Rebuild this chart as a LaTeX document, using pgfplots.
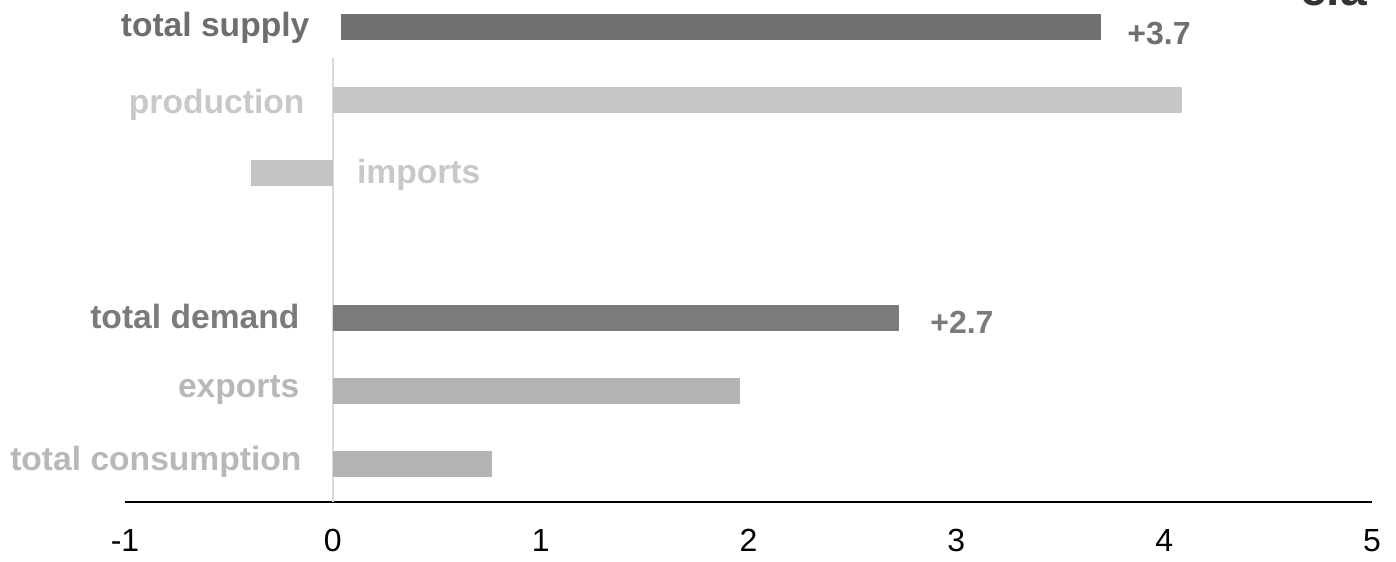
\documentclass[border=0pt]{standalone}
\usepackage{fontspec}
\setmainfont{Liberation Sans}
\usepackage{pgfplots}
\pgfplotsset{compat=1.18}
\definecolor{cSupply}{HTML}{707070}
\definecolor{cSupplyT}{HTML}{6E6E6E}
\definecolor{cDemand}{HTML}{7B7B7B}
\definecolor{cProd}{HTML}{C6C6C6}
\definecolor{cProdT}{HTML}{C8C8C8}
\definecolor{cImp}{HTML}{C4C4C4}
\definecolor{cExp}{HTML}{B3B3B3}
\definecolor{cExpT}{HTML}{B8B8B8}
\definecolor{cZero}{HTML}{D9D9D9}
\begin{document}
\begin{tikzpicture}
\begin{axis}[
  name=ax,
  scale only axis,
  width=623.5pt, height=251pt,
  xmin=-1, xmax=5, ymin=-0.52, ymax=6.37,
  axis x line=bottom, axis y line=none,
  x axis line style={-, line width=1pt, black},
  xtick={-1,0,1,2,3,4,5},
  xticklabels={-1,0,1,2,3,4,5},
  major tick length=0pt,
  xticklabel style={font=\fontsize{16}{16}\selectfont, black, yshift=-10pt},
  clip=false,
]
% zero line
\addplot[sharp plot, no marks, cZero, line width=1pt] coordinates {(0,-0.52) (0,5.575)};
% total supply (floating bar)
\addplot[sharp plot, no marks, fill=cSupply, draw=none] coordinates {(0.0385,5.822) (3.695,5.822) (3.695,6.178) (0.0385,6.178)} -- cycle;
% other bars
\addplot[xbar, bar width=0.356, bar shift=0pt, fill=cProd, draw=none] coordinates {(4.086,5)};
\addplot[xbar, bar width=0.356, bar shift=0pt, fill=cImp, draw=none] coordinates {(-0.395,4)};
\addplot[xbar, bar width=0.356, bar shift=0pt, fill=cDemand, draw=none] coordinates {(2.724,2)};
\addplot[xbar, bar width=0.356, bar shift=0pt, fill=cExp, draw=none] coordinates {(1.96,1)};
\addplot[xbar, bar width=0.356, bar shift=0pt, fill=cExp, draw=none] coordinates {(0.764,0)};
% category labels
\begin{scope}[every node/.style={inner sep=0pt, font=\fontsize{16.8}{16.8}\selectfont\bfseries}]
\node[anchor=base east, text=cSupplyT, yshift=-5pt] at (axis cs:-0.111,6) {total supply};
\node[anchor=base east, text=cProdT, yshift=-7pt] at (axis cs:-0.135,5) {production};
\node[anchor=base west, text=cProdT, yshift=-5.5pt] at (axis cs:0.115,4) {imports};
\node[anchor=base east, text=cDemand, yshift=-5pt] at (axis cs:-0.159,2) {total demand};
\node[anchor=base east, text=cExpT, yshift=-3pt] at (axis cs:-0.159,1) {exports};
\node[anchor=base east, text=cExpT, yshift=-3pt] at (axis cs:-0.149,0) {total consumption};
\end{scope}
% value labels
\begin{scope}[every node/.style={inner sep=0pt, font=\fontsize{16}{16}\selectfont\bfseries}]
\node[anchor=base west, text=cSupply, yshift=-9pt] at (axis cs:3.821,6) {+3.7};
\node[anchor=base west, text=cDemand, yshift=-7.5pt] at (axis cs:2.873,2) {+2.7};
\end{scope}
\node[anchor=base west, inner sep=0pt, text={rgb,255:red,51;green,51;blue,51}, font=\fontsize{24}{24}\selectfont\bfseries] at (axis cs:4.653,6.29) {eia};
\coordinate (SW) at (rel axis cs:0,0);
\coordinate (NE) at (rel axis cs:1,1);
\end{axis}
\pgfresetboundingbox
\path ([xshift=-62.5pt,yshift=-29.5pt]SW) rectangle ([xshift=12pt]NE);
\end{tikzpicture}
\end{document}
